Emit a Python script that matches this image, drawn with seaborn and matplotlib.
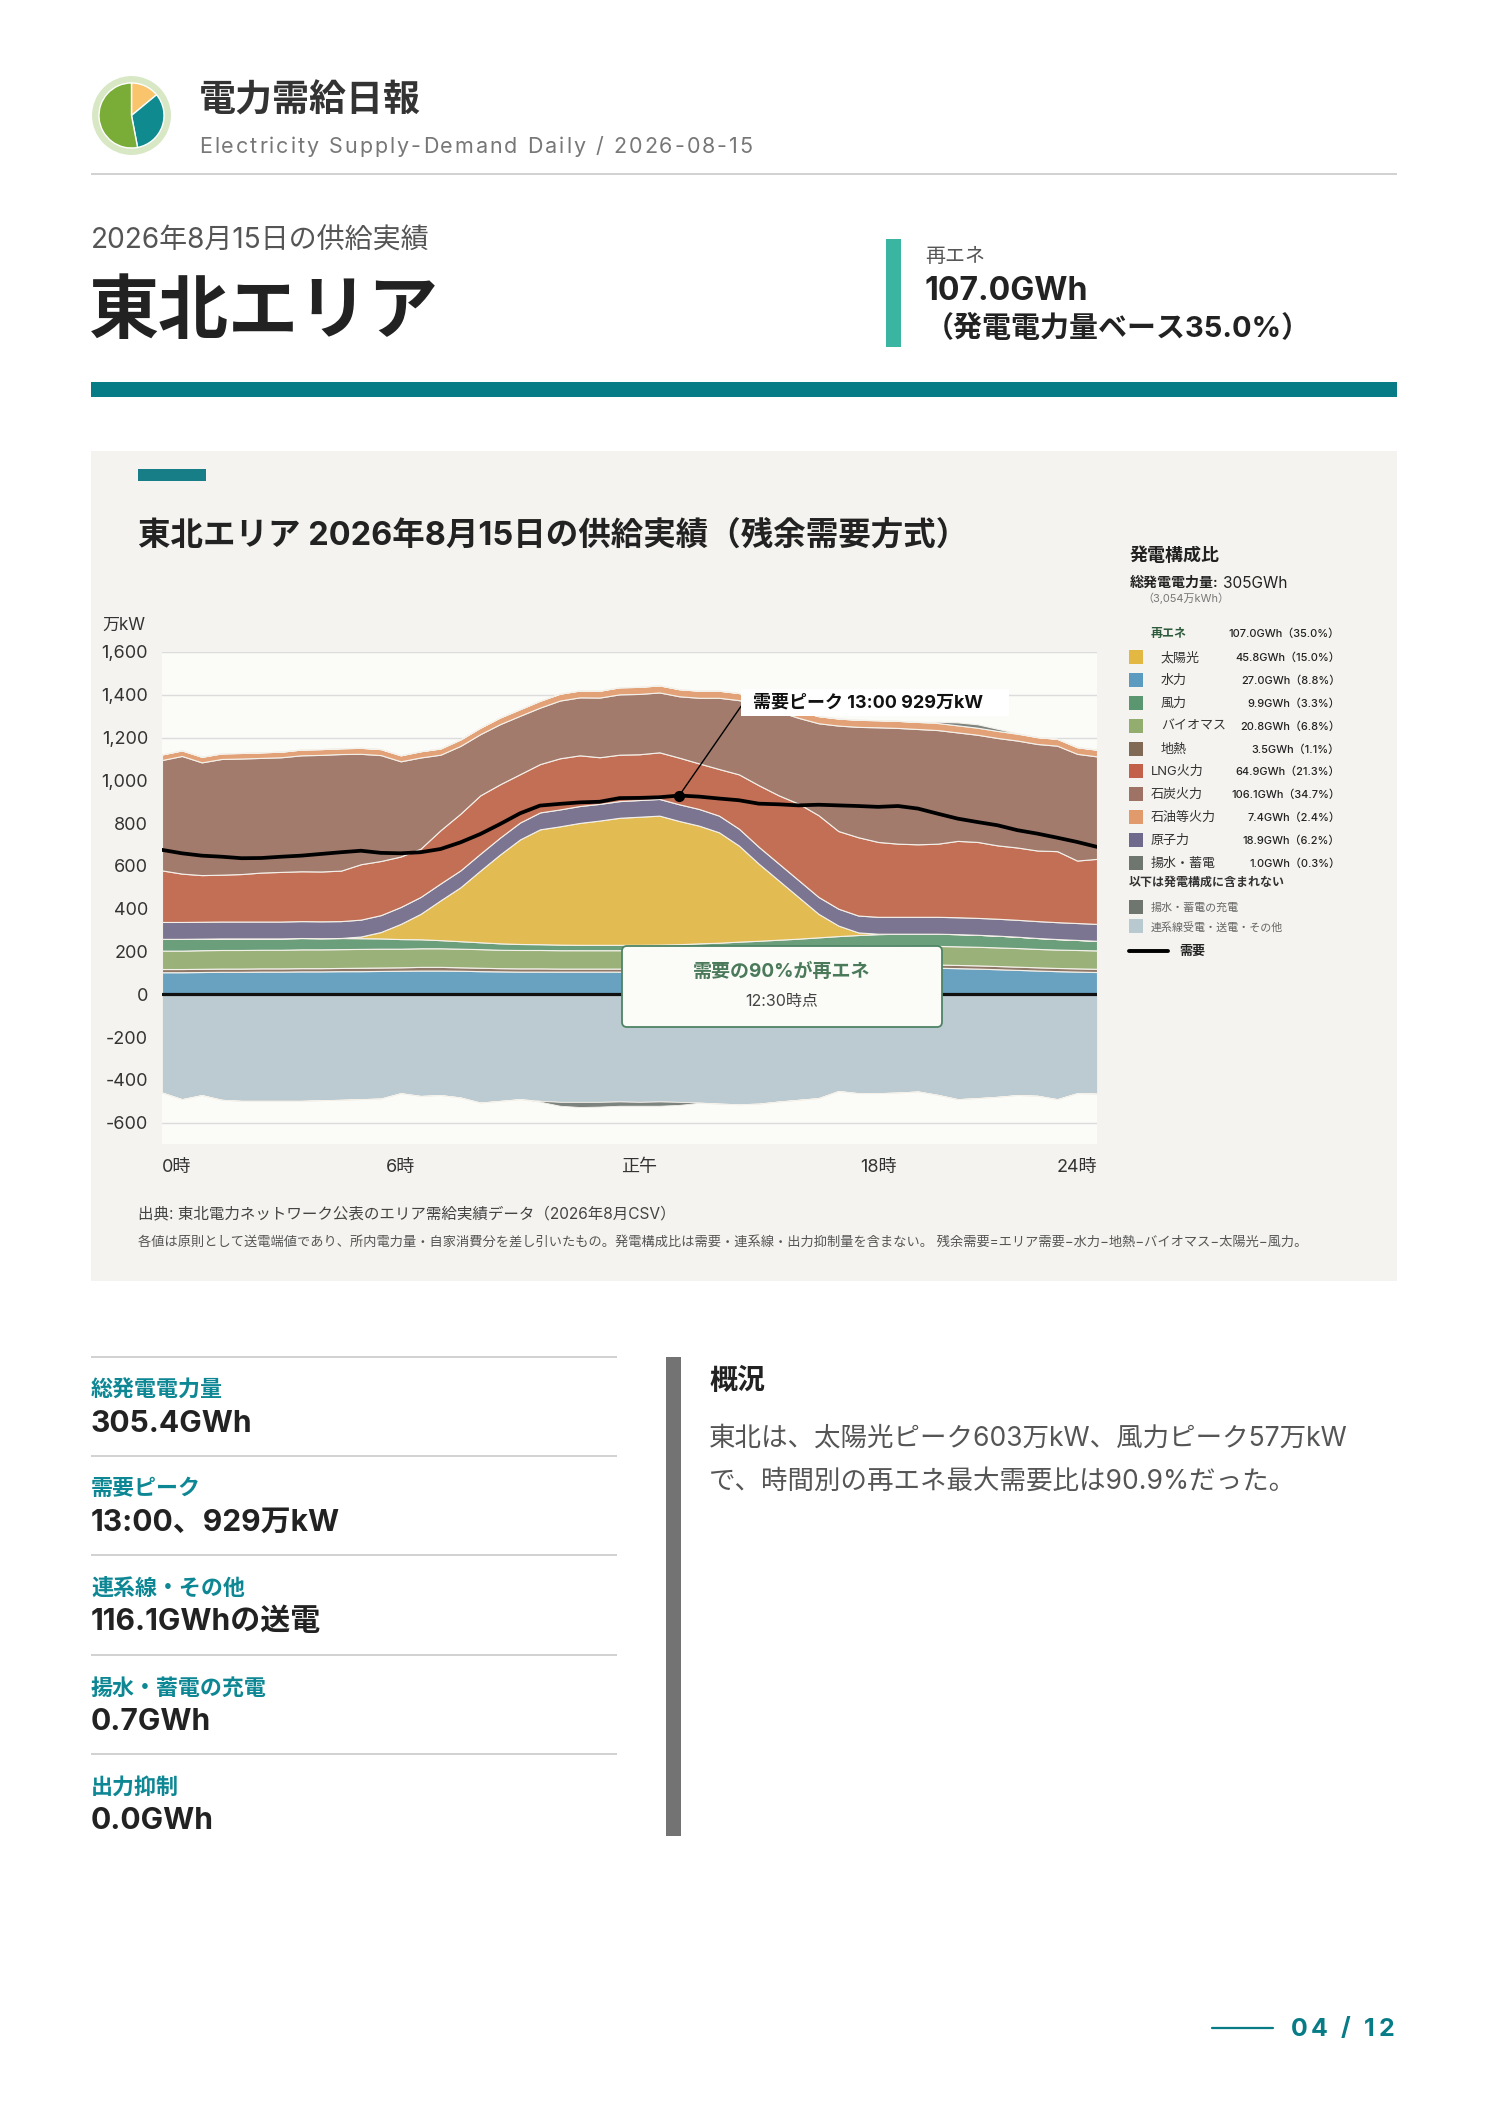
import numpy as np
import pandas as pd
import matplotlib.pyplot as plt
from matplotlib.patches import Rectangle, FancyBboxPatch, Circle
import seaborn as sns

# --- data (万kW, 30-minute slots 0:00 .. 23:30) ---
slots = np.arange(48) * 0.5

hydro = [103, 103, 104, 105, 105, 106, 106, 107, 107, 108,
         108, 109, 110, 111, 111, 110, 108, 107, 106, 106,
         106, 106, 106, 106, 106, 107, 108, 110, 112, 114,
         116, 118, 120, 122, 124, 125, 126, 126, 125, 124,
         122, 120, 117, 114, 111, 108, 106, 104]
geo = [15, 15, 15, 15, 15, 15, 15, 15, 15, 15,
       16, 16, 16, 17, 17, 16, 16, 15, 15, 15,
       14, 14, 14, 14, 14, 14, 14, 14, 14, 15,
       15, 15, 15, 15, 15, 15, 15, 15, 15, 15,
       15, 15, 15, 15, 15, 15, 15, 15]
bio = [86, 86, 87, 87, 87, 87, 87, 88, 88, 88,
       88, 88, 87, 87, 87, 87, 87, 86, 86, 86,
       86, 86, 86, 86, 86, 86, 86, 87, 87, 87,
       87, 87, 87, 87, 87, 87, 87, 87, 87, 87,
       87, 87, 87, 87, 86, 86, 86, 86]
wind = [55, 55, 54, 54, 54, 53, 53, 53, 52, 52,
        50, 48, 45, 42, 38, 35, 32, 30, 28, 27,
        26, 25, 25, 25, 25, 25, 26, 27, 28, 30,
        32, 35, 38, 42, 46, 50, 53, 55, 56, 57,
        57, 56, 55, 53, 51, 49, 47, 45]
solar = [0, 0, 0, 0, 0, 0, 0, 0, 0, 0,
         8, 30, 71, 119, 186, 252, 335, 416, 489, 537,
         553, 570, 581, 594, 599, 603, 576, 550, 516, 449,
         360, 277, 194, 110, 49, 12, 2, 0, 0, 0,
         0, 0, 0, 0, 0, 0, 0, 0]
nuclear = [79, 79, 79, 79, 79, 79, 79, 79, 79, 79,
           79, 79, 79, 79, 79, 79, 79, 79, 79, 79,
           79, 79, 78, 78, 78, 78, 78, 78, 78, 79,
           79, 79, 79, 79, 79, 79, 79, 79, 79, 79,
           79, 79, 79, 79, 79, 79, 79, 79]
lng = [241, 226, 218, 219, 222, 229, 232, 233, 233, 236,
       259, 253, 236, 226, 249, 265, 273, 249, 226, 226,
       239, 237, 218, 217, 214, 218, 218, 213, 218, 254,
       288, 319, 358, 382, 363, 366, 350, 342, 339, 342,
       357, 355, 343, 338, 330, 332, 292, 304]
coal = [516, 550, 527, 541, 540, 536, 536, 542, 545, 545,
        516, 495, 445, 426, 353, 317, 286, 281, 273, 264,
        270, 271, 279, 282, 282, 280, 287, 307, 333, 347,
        375, 392, 401, 430, 493, 516, 536, 541, 539, 531,
        507, 501, 502, 500, 498, 493, 499, 479]
oil = [26, 26, 26, 26, 26, 26, 26, 27, 27, 27,
       28, 28, 28, 29, 29, 30, 30, 31, 31, 32,
       32, 32, 32, 33, 33, 33, 33, 33, 33, 33,
       33, 33, 33, 33, 33, 33, 33, 33, 33, 33,
       33, 33, 33, 32, 32, 32, 31, 31]
pumped_gen = [0, 0, 0, 0, 0, 0, 0, 0, 0, 0,
              0, 0, 0, 0, 0, 0, 0, 0, 0, 0,
              0, 0, 0, 0, 0, 0, 0, 0, 0, 0,
              0, 0, 0, 0, 0, 0, 0, 0, 0, 6,
              14, 16, 10, 2, 0, 0, 0, 0]
interconnect = [-459, -490, -471, -493, -498, -498, -498, -498, -495, -493,
                -490, -487, -462, -475, -471, -482, -506, -498, -490, -498,
                -503, -503, -503, -501, -503, -501, -503, -506, -511, -514,
                -511, -501, -493, -485, -452, -462, -462, -459, -454, -470,
                -490, -485, -479, -471, -474, -490, -462, -464]
pump_charge = [0, 0, 0, 0, 0, 0, 0, 0, 0, 0,
               0, 0, 0, 0, 0, 0, 0, 0, 0, -4,
               -18, -24, -22, -20, -18, -20, -14, -2, 0, 0,
               0, 0, 0, 0, 0, 0, 0, 0, 0, 0,
               0, 0, 0, 0, 0, 0, 0, 0]
demand = [675, 659, 648, 643, 636, 637, 643, 648, 656, 664,
          671, 661, 659, 664, 679, 710, 749, 796, 846, 882,
          890, 897, 900, 917, 918, 921, 929, 924, 915, 907,
          891, 888, 883, 886, 883, 880, 876, 880, 868, 844,
          821, 805, 790, 767, 751, 732, 712, 689]

peak_time, peak_value = 13.0, 929

yticks = [-600, -400, -200, 0, 200, 400, 600, 800, 1000, 1200, 1400, 1600]
ylabels = ["-600", "-400", "-200", "0", "200", "400", "600", "800", "1,000", "1,200", "1,400", "1,600"]
xticks = [0, 6, 12, 18, 23.5]
xlabels = ["0時", "6時", "正午", "18時", "24時"]

legend_names = ["太陽光", "水力", "風力", "バイオマス", "地熱", "LNG火力", "石炭火力", "石油等火力", "原子力", "揚水・蓄電"]
legend_values = ["45.8GWh（15.0%）", "27.0GWh（8.8%）", "9.9GWh（3.3%）", "20.8GWh（6.8%）", "3.5GWh（1.1%）",
                 "64.9GWh（21.3%）", "106.1GWh（34.7%）", "7.4GWh（2.4%）", "18.9GWh（6.2%）", "1.0GWh（0.3%）"]
legend_indent = [True, True, True, True, True, False, False, False, False, False]
legend_colors = ["#e2b843", "#5b9bbf", "#5a9670", "#92ad6e", "#806a55",
                 "#c2604a", "#9e7265", "#e09a6c", "#6f6a8c", "#6f7670"]
extra_names = ["揚水・蓄電の充電", "連系線受電・送電・その他"]
extra_colors = ["#6f7670", "#b8c9d0"]

kpi_labels = ["総発電電力量", "需要ピーク", "連系線・その他", "揚水・蓄電の充電", "出力抑制"]
kpi_values = ["305.4GWh", "13:00、929万kW", "116.1GWhの送電", "0.7GWh", "0.0GWh"]

logo_share = [14, 33, 53]
logo_colors = ["#f9c46b", "#0f8a8e", "#7aac38"]

# stack colours (chart)
c_hydro, c_geo, c_bio, c_wind = "#69a2c1", "#8f7868", "#9ab17a", "#6b9e7a"
c_solar, c_nuc, c_lng, c_coal = "#e2bb52", "#7b7591", "#c36f56", "#a27b6d"
c_oil, c_pump, c_inter = "#e3a177", "#7d837e", "#bccbd1"

sns.set_theme(style="white")
plt.rcParams['font.family'] = ['Inter', 'Noto Sans CJK JP', 'DejaVu Sans']

W, H = 1488, 2105
fig = plt.figure(figsize=(W / 100, H / 100), dpi=100)
fig.patch.set_facecolor("white")


def put(x, y, s, px, color="#222222", weight="normal", ha="left", va="center", z=6, **kw):
    fig.text(x / W, 1 - y / H, s, fontsize=px * 0.72, color=color, fontweight=weight,
             ha=ha, va=va, zorder=z, **kw)


def tracked(x, y, s, px, gap, color="#222222", weight="normal", ha="left"):
    # letter-spaced text, placed glyph by glyph
    r = fig.canvas.get_renderer()
    probe = fig.text(0, 0, "|", fontsize=px * 0.72, fontweight=weight)
    bar = probe.get_window_extent(r).width
    offs = []
    for k in range(len(s) + 1):
        probe.set_text(s[:k] + "|")
        offs.append(probe.get_window_extent(r).width - bar + k * gap)
    probe.remove()
    x0 = x - (offs[-1] - gap) if ha == "right" else x
    for k, ch in enumerate(s):
        if ch != " ":
            put(x0 + offs[k], y, ch, px, color=color, weight=weight)


def box(x0, y0, x1, y1, color, z=1):
    fig.add_artist(Rectangle((x0 / W, 1 - y1 / H), (x1 - x0) / W, (y1 - y0) / H,
                             transform=fig.transFigure, facecolor=color, edgecolor="none", zorder=z))


# ---- header ----
lax = fig.add_axes([92 / W, 1 - 155 / H, 79 / W, 79 / H])
lax.add_patch(Circle((0, 0), 1.0, color="#d8e7c4", zorder=0))
lax.pie(logo_share, colors=logo_colors, startangle=90, counterclock=False, radius=0.84)
lax.set_xlim(-1.02, 1.02)
lax.set_ylim(-1.02, 1.02)
lax.set_aspect("equal")
lax.axis("off")

put(199, 101, "電力需給日報", 37, color="#333333", weight="bold")
tracked(199, 147, "Electricity Supply-Demand Daily / 2026-08-15", 21.5, 2.0, color="#777777")
box(91, 173, 1397, 175, "#d2d2d2")

put(91, 241, "2026年8月15日の供給実績", 28, color="#555555")
put(89, 314, "東北エリア", 70, color="#222222", weight="bold")
box(886, 239, 901, 347, "#3ab5a2")
put(925, 257, "再エネ", 20, color="#555555")
put(925, 291, "107.0GWh", 32, color="#222222", weight="bold")
put(925, 329, "（発電電力量ベース35.0%）", 29, color="#222222", weight="bold")
box(91, 382, 1397, 397, "#077c87")

# ---- chart panel ----
box(91, 451, 1397, 1281, "#f4f3ef", z=-1)
box(138, 469, 206, 481, "#177e88")
put(138, 536, "東北エリア 2026年8月15日の供給実績（残余需要方式）", 32.5, color="#222222", weight="bold")
put(102, 625, "万kW", 17, color="#333333")

ax = fig.add_axes([162 / W, 1 - 1144 / H, 935 / W, (1144 - 652) / H])
ax.set_facecolor("#fbfbf8")
ax.stackplot(slots, hydro, geo, bio, wind, solar, nuclear, lng, coal, oil, pumped_gen,
             colors=[c_hydro, c_geo, c_bio, c_wind, c_solar, c_nuc, c_lng, c_coal, c_oil, c_pump],
             edgecolor="#f4f1ea", linewidth=0.8, zorder=2)
ax.stackplot(slots, interconnect, pump_charge, colors=[c_inter, c_pump],
             edgecolor="#f4f1ea", linewidth=0.6, zorder=2)
ax.axhline(0, color="#111111", lw=2.3, zorder=3)

df = pd.DataFrame({"time": slots, "demand": demand})
sns.lineplot(data=df, x="time", y="demand", color="black", linewidth=2.7, ax=ax, zorder=4)
ax.plot([peak_time], [peak_value], "o", color="black", ms=7, zorder=5)
ax.plot([peak_time, 14.56], [peak_value, 1348], color="black", lw=1, zorder=5)
ax.add_patch(Rectangle((14.56, 1299), 6.72, 127, facecolor="white", edgecolor="none", zorder=6))
ax.text(14.85, 1362, "需要ピーク 13:00 929万kW", fontsize=18 * 0.72, fontweight="bold",
        color="#111111", va="center", zorder=7)

ax.set_xlim(0, 23.5)
ax.set_ylim(-700, 1600)
ax.set_xlabel("")
ax.set_ylabel("")
ax.set_yticks(yticks)
ax.set_yticklabels(ylabels)
ax.set_xticks(xticks)
ax.set_xticklabels(xlabels)
ax.tick_params(axis="y", length=0, pad=10, labelsize=18 * 0.72, labelcolor="#333333")
ax.tick_params(axis="x", length=0, pad=11, labelsize=18 * 0.72, labelcolor="#333333")
xl = ax.get_xticklabels()
xl[0].set_ha("left")
xl[-1].set_ha("right")
ax.grid(axis="y", color="#dcdcdc", lw=1)
ax.grid(axis="x", visible=False)
ax.set_axisbelow(True)
for s in ax.spines.values():
    s.set_visible(False)
if ax.get_legend() is not None:
    ax.get_legend().remove()

# renewable share callout
fig.add_artist(FancyBboxPatch((622 / 100, (H - 1027) / 100), 320 / 100, 81 / 100,
                              boxstyle="round,pad=0,rounding_size=0.05",
                              transform=fig.dpi_scale_trans, facecolor="#fbfbf8",
                              edgecolor="#4e8465", lw=1.3, zorder=5))
put(782, 972, "需要の90%が再エネ", 19, color="#4a7a5a", weight="bold", ha="center")
put(782, 1002, "12:30時点", 16, color="#444444", ha="center")

# legend
put(1130, 556, "発電構成比", 18, color="#222222", weight="bold")
put(1130, 583, "総発電電力量:", 14, color="#222222", weight="bold")
put(1223, 583, "305GWh", 15.5, color="#222222")
put(1142, 598, "（3,054万kWh）", 11, color="#777777")
put(1151, 634, "再エネ", 12, color="#2e5a3c", weight="bold")
put(1340, 634, "107.0GWh（35.0%）", 11, color="#222222", weight="medium", ha="right")
row_y = [657, 680, 703, 726, 749, 771, 794, 817, 840, 863]
for name, val, ind, col, y in zip(legend_names, legend_values, legend_indent, legend_colors, row_y):
    box(1129, y - 7, 1143, y + 7, col, z=2)
    put(1161 if ind else 1151, y + 1, name, 13, color="#333333")
    put(1340, y + 1, val, 11, color="#222222", weight="medium", ha="right")
put(1129, 883, "以下は発電構成に含まれない", 12, color="#333333", weight="bold")
for name, col, y in zip(extra_names, extra_colors, [907, 926]):
    box(1129, y - 7, 1143, y + 7, col, z=2)
    put(1151, y + 1, name, 11, color="#666666")
fig.add_artist(plt.Line2D([1129 / W, 1168 / W], [1 - 951 / H, 1 - 951 / H],
                          transform=fig.transFigure, color="black", lw=2.8, zorder=3))
put(1179, 952, "需要", 13, color="#222222", weight="bold")

put(138, 1214, "出典: 東北電力ネットワーク公表のエリア需給実績データ（2026年8月CSV）", 15.5, color="#444444")
put(138, 1242, "各値は原則として送電端値であり、所内電力量・自家消費分を差し引いたもの。発電構成比は需要・連系線・出力抑制量を含まない。"
               " 残余需要=エリア需要−水力−地熱−バイオマス−太陽光−風力。", 13.2, color="#555555")

# ---- KPI column ----
line_y = [1357, 1456, 1555, 1655, 1754]
for i, (lab, val) in enumerate(zip(kpi_labels, kpi_values)):
    box(91, line_y[i] - 1, 617, line_y[i] + 1, "#d2d2d2")
    put(91, line_y[i] + 33, lab, 22, color="#0e8794", weight="bold")
    put(91, line_y[i] + 67, val, 30, color="#222222", weight="bold")

box(666, 1357, 681, 1836, "#737373")
put(710, 1381, "概況", 28, color="#222222", weight="bold")
put(709, 1439, "東北は、太陽光ピーク603万kW、風力ピーク57万kW", 26.5, color="#555555")
put(709, 1482, "で、時間別の再エネ最大需要比は90.9%だった。", 26.5, color="#555555")

fig.add_artist(plt.Line2D([1212 / W, 1273 / W], [1 - 2028 / H, 1 - 2028 / H],
                          transform=fig.transFigure, color="#077c87", lw=1.6, zorder=3))
tracked(1394, 2029, "04 / 12", 25, 3.6, color="#077c87", weight="bold", ha="right")

fig.savefig("out.png", dpi=100)
